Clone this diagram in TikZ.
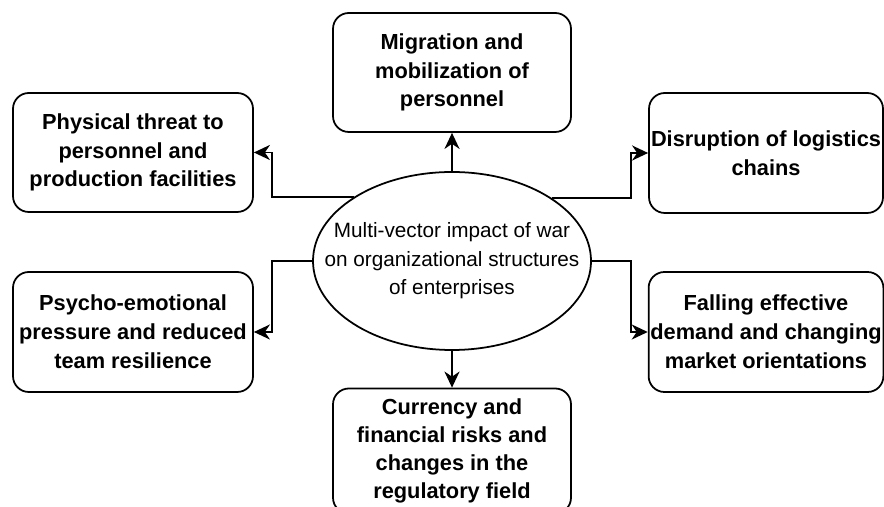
\documentclass[tikz,border=0pt]{standalone}
\usepackage{fontspec}
\setmainfont{Liberation Sans}
\usetikzlibrary{positioning,arrows.meta,shapes.geometric}
\tikzset{
  box/.style   ={draw, line width=1pt, fill=white, rounded corners=9pt, align=center, minimum width=47.6mm, minimum height=23.8mm, inner sep=1pt, font=\fontsize{12.4}{16.4}\selectfont\bfseries},
  hub/.style   ={ellipse, draw, line width=1pt, fill=white, minimum width=55.6mm, minimum height=35.6mm, inner sep=0pt},
  hubtxt/.style={align=center, inner sep=0pt, font=\fontsize{11.8}{16.2}\selectfont},
  ln/.style    ={line width=1.1pt, -{Stealth[length=3.2mm,width=3mm,inset=1mm]}},
}

\begin{document}
\begin{tikzpicture}
    \useasboundingbox (0,0) rectangle (17.68,10.14);
    \clip (0,0) rectangle (17.68,10.14);
    % centre
    \node[hub] (ell) at (9.04,4.92) {};
    \node[hubtxt] (elltxt) at (ell.center)
      {Multi-vector impact of war\\ on organizational structures\\ of enterprises};
    % the six effects
    \node[box] (mig) at (9.04,8.69) {Migration and\\ mobilization of\\ personnel};
    \node[box,minimum width=48mm] (phys) at (2.66,7.09) {Physical threat to\\ personnel and\\ production facilities};
    \node[box,minimum width=46.8mm,minimum height=24mm] (logi) at (15.32,7.08) {Disruption of logistics\\ chains};
    \node[box,minimum width=48mm,minimum height=24mm] (psy) at (2.66,3.50) {Psycho-emotional\\ pressure and reduced\\ team resilience};
    \node[box,minimum width=46.8mm,minimum height=24mm] (dem) at (15.32,3.50) {Falling effective\\ demand and changing\\ market orientations};
    \node[box,minimum height=25mm,font=\fontsize{12.4}{16}\selectfont\bfseries] (cur) at (9.04,1.12) {Currency and\\ financial risks and\\ changes in the\\ regulatory field};
    % elbows
    \coordinate (kl) at (5.44,0);
    \coordinate (kr) at (12.62,0);
    \draw[ln] (ell.north) -- (mig.south);
    \draw[ln] (ell.south) -- (cur.north);
    \draw[ln] (ell.147.3) -| (kl |- phys.east) -- (phys.east);
    \draw[ln] (ell.32.7) -| (kr |- logi.west) -- (logi.west);
    \draw[ln] (ell.west) -| (kl |- psy.east) -- (psy.east);
    \draw[ln] (ell.east) -| (kr |- dem.west) -- (dem.west);
  \end{tikzpicture}
\end{document}
